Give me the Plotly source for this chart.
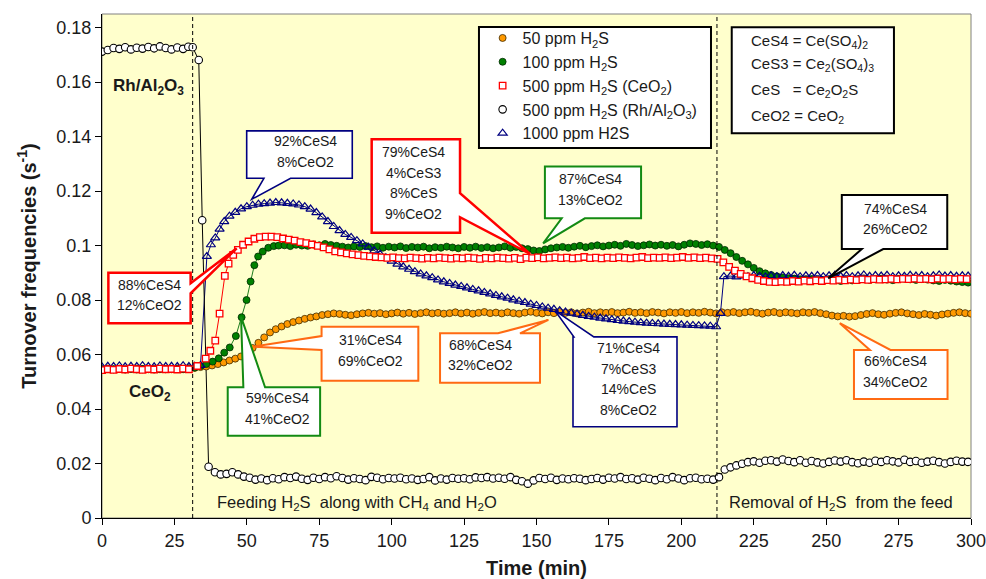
import plotly.graph_objects as go

FONT = "Arial, 'Liberation Sans', Helvetica, sans-serif"
TXT = "#1a1a1a"


def grid(start, step, n):
    """Sampling instants of a run logged at a fixed interval (min)."""
    return [round(start + step * i, 2) for i in range(n)]


# ---------------------------------------------------------------------------
# Turnover frequency (s^-1) versus time on stream (min)
# H2S switched on at ~31 min, switched off at ~212 min
# ---------------------------------------------------------------------------
h2s_on, h2s_off = 31.3, 212.3

# 50 ppm H2S over CeO2, logged every 2 min from t = 0
orange_v = [
    0.0545, 0.0547, 0.0546, 0.0548, 0.0546, 0.0547, 0.0545, 0.0547, 0.0546, 0.0548,
    0.0546, 0.0547, 0.0546, 0.0548, 0.0547, 0.0549, 0.0551, 0.0554, 0.0556, 0.0560,
    0.0565, 0.0571, 0.0578, 0.0585, 0.0593, 0.0605, 0.0624, 0.0643, 0.0663, 0.0681,
    0.0693, 0.0703, 0.0712, 0.0719, 0.0725, 0.0731, 0.0736, 0.0740, 0.0745, 0.0748,
    0.0751, 0.0749, 0.0746, 0.0744, 0.0748, 0.0751, 0.0753, 0.0750, 0.0752, 0.0748,
    0.0751, 0.0754, 0.0750, 0.0753, 0.0749, 0.0752, 0.0755, 0.0751, 0.0753, 0.0750,
    0.0752, 0.0755, 0.0751, 0.0754, 0.0750, 0.0753, 0.0756, 0.0752, 0.0754, 0.0751,
    0.0755, 0.0752, 0.0750, 0.0754, 0.0757, 0.0753, 0.0751, 0.0755, 0.0752, 0.0756,
    0.0753, 0.0755, 0.0751, 0.0754, 0.0757, 0.0752, 0.0755, 0.0753, 0.0756, 0.0752,
    0.0754, 0.0757, 0.0753, 0.0755, 0.0752, 0.0756, 0.0754, 0.0751, 0.0755, 0.0753,
    0.0756, 0.0752, 0.0755, 0.0753, 0.0757, 0.0754, 0.0751, 0.0755, 0.0753, 0.0756,
    0.0752, 0.0755, 0.0757, 0.0753, 0.0750, 0.0754, 0.0756, 0.0752, 0.0755, 0.0753,
    0.0751, 0.0755, 0.0753, 0.0756, 0.0752, 0.0748, 0.0743, 0.0740, 0.0742, 0.0739,
    0.0741, 0.0745, 0.0749, 0.0752, 0.0748, 0.0746, 0.0750, 0.0753, 0.0755, 0.0751,
    0.0748, 0.0745, 0.0749, 0.0746, 0.0743, 0.0747, 0.0750, 0.0753, 0.0755, 0.0752,
    0.0750,
]
orange_t = grid(0, 2, len(orange_v))

# 100 ppm H2S over CeO2
green_pre_v = [
    0.0546, 0.0548, 0.0546, 0.0547, 0.0545, 0.0547, 0.0548, 0.0546, 0.0547, 0.0545,
    0.0547, 0.0546, 0.0547, 0.0548, 0.0546, 0.0549, 0.0552, 0.0558, 0.0565,
]
green_rise_t = [38.2, 40.3, 42.2, 44.1, 46.2, 48.2, 49.9, 51.3, 52.6, 53.9, 55.5, 57.4, 59.3]
green_rise_v = [0.0574, 0.0586, 0.0607, 0.0626, 0.0668, 0.0737, 0.0800, 0.0868,
                0.0928, 0.0960, 0.0978, 0.0992, 0.0998]
green_post_v = [
    0.1000, 0.1001, 0.0998, 0.1003, 0.1000, 0.0999, 0.1004, 0.1001, 0.1006, 0.1002,
    0.0999, 0.0996, 0.0993, 0.0997, 0.0995, 0.0998, 0.0994, 0.0997, 0.0992, 0.0996,
    0.0993, 0.0997, 0.0991, 0.0995, 0.0993, 0.0996, 0.0990, 0.0994, 0.0992, 0.0996,
    0.0993, 0.0990, 0.0995, 0.0992, 0.0996, 0.0991, 0.0994, 0.0990, 0.0993, 0.0997,
    0.0992, 0.0995, 0.0990, 0.0987, 0.0982, 0.0980, 0.0986, 0.0990, 0.0993, 0.0995,
    0.0992, 0.0996, 0.0999, 0.0994, 0.0998, 0.1001, 0.0997, 0.1000, 0.1003, 0.0999,
    0.1006, 0.1002, 0.0998, 0.1001, 0.1004, 0.1000, 0.1003, 0.0999, 0.1002, 0.0997,
    0.1003, 0.1008, 0.1006, 0.1002, 0.1005, 0.1000, 0.0995, 0.0984, 0.0972, 0.0958,
    0.0944, 0.0931, 0.0918, 0.0906, 0.0898, 0.0892, 0.0887, 0.0883, 0.0880, 0.0878,
    0.0876, 0.0875, 0.0877, 0.0874, 0.0872, 0.0875, 0.0873, 0.0870, 0.0874, 0.0872,
    0.0875, 0.0877, 0.0874, 0.0876, 0.0878, 0.0875, 0.0873, 0.0877, 0.0879, 0.0876,
    0.0874, 0.0877, 0.0875, 0.0872, 0.0870, 0.0874, 0.0871, 0.0868, 0.0866, 0.0864,
]
green_t = grid(0, 2, len(green_pre_v)) + green_rise_t + grid(61, 2, len(green_post_v))
green_v = green_pre_v + green_rise_v + green_post_v

# 500 ppm H2S over CeO2
red_pre_v = [
    0.0543, 0.0546, 0.0544, 0.0547, 0.0545, 0.0548, 0.0546, 0.0544, 0.0547, 0.0545,
    0.0548, 0.0546, 0.0547, 0.0545, 0.0548, 0.0546,
]
red_rise_t = [32.9, 35.8, 37.4, 39.1, 40.6, 42.4, 43.7, 45.3, 46.9, 48.7, 50.6, 52.6]
red_rise_v = [0.0558, 0.0585, 0.0614, 0.0651, 0.0750, 0.0889, 0.0934, 0.0966,
              0.0984, 0.1003, 0.1015, 0.1025]
red_post_v = [
    0.1031, 0.1033, 0.1033, 0.1031, 0.1026, 0.1022, 0.1018, 0.1013, 0.1009, 0.1004,
    0.0999, 0.0993, 0.0986, 0.0979, 0.0975, 0.0971, 0.0968, 0.0965, 0.0962, 0.0960,
    0.0958, 0.0957, 0.0955, 0.0957, 0.0954, 0.0953, 0.0956, 0.0954, 0.0952, 0.0955,
    0.0953, 0.0956, 0.0954, 0.0952, 0.0955, 0.0953, 0.0956, 0.0954, 0.0951, 0.0955,
    0.0953, 0.0956, 0.0954, 0.0952, 0.0955, 0.0950, 0.0956, 0.0954, 0.0957, 0.0953,
    0.0955, 0.0957, 0.0954, 0.0956, 0.0953, 0.0955, 0.0958, 0.0954, 0.0956, 0.0953,
    0.0956, 0.0954, 0.0957, 0.0955, 0.0953, 0.0956, 0.0958, 0.0954, 0.0956, 0.0955,
    0.0957, 0.0954, 0.0956, 0.0958, 0.0955, 0.0957, 0.0954, 0.0956, 0.0953, 0.0951,
    0.0938, 0.0922, 0.0908, 0.0896, 0.0887, 0.0880, 0.0874, 0.0870, 0.0867, 0.0866,
    0.0868, 0.0867, 0.0870, 0.0868, 0.0871, 0.0869, 0.0872, 0.0870, 0.0873, 0.0871,
    0.0874, 0.0872, 0.0875, 0.0873, 0.0876, 0.0874, 0.0877, 0.0875, 0.0876, 0.0878,
    0.0876, 0.0878, 0.0877, 0.0879, 0.0877, 0.0878, 0.0876, 0.0879, 0.0877, 0.0878,
    0.0876, 0.0878, 0.0877,
]
red_t = grid(0, 2, len(red_pre_v)) + red_rise_t + grid(54.5, 2, len(red_post_v))
red_v = red_pre_v + red_rise_v + red_post_v

# 500 ppm H2S over Rh/Al2O3
black_pre_v = [
    0.1712, 0.1718, 0.1725, 0.1722, 0.1728, 0.1720, 0.1726, 0.1723, 0.1729, 0.1724,
    0.1731, 0.1725, 0.1720, 0.1727, 0.1722,
]
black_drop_t = [29.8, 31.3, 33.4, 34.6, 36.8]
black_drop_v = [0.1730, 0.1728, 0.1681, 0.1093, 0.0188]
black_feed_v = [
    0.0168, 0.0160, 0.0162, 0.0168, 0.0160, 0.0152, 0.0148, 0.0141, 0.0145, 0.0139,
    0.0146, 0.0142, 0.0150, 0.0147, 0.0152, 0.0144, 0.0140, 0.0148, 0.0143, 0.0150,
    0.0146, 0.0153, 0.0147, 0.0141, 0.0146, 0.0143, 0.0139, 0.0151, 0.0148, 0.0142,
    0.0147, 0.0145, 0.0148, 0.0142, 0.0145, 0.0140, 0.0143, 0.0150, 0.0138, 0.0145,
    0.0141, 0.0147, 0.0144, 0.0146, 0.0142, 0.0149, 0.0147, 0.0150, 0.0145, 0.0148,
    0.0144, 0.0150, 0.0140, 0.0135, 0.0126, 0.0138, 0.0147, 0.0143, 0.0148, 0.0140,
    0.0145, 0.0142, 0.0146, 0.0144, 0.0139, 0.0143, 0.0147, 0.0141, 0.0148, 0.0145,
    0.0150, 0.0143, 0.0146, 0.0141, 0.0148, 0.0144, 0.0139, 0.0147, 0.0142, 0.0150,
    0.0145, 0.0139, 0.0146, 0.0148, 0.0142, 0.0144, 0.0141,
]
black_off_v = [
    0.0150, 0.0178, 0.0186, 0.0193, 0.0199, 0.0205, 0.0208, 0.0203, 0.0210, 0.0212,
    0.0207, 0.0215, 0.0209, 0.0205, 0.0212, 0.0203, 0.0209, 0.0204, 0.0200, 0.0206,
    0.0211, 0.0207, 0.0212, 0.0205, 0.0201, 0.0207, 0.0203, 0.0210, 0.0206, 0.0212,
    0.0208, 0.0204, 0.0214, 0.0206, 0.0209, 0.0203, 0.0207, 0.0210, 0.0205, 0.0200,
    0.0206, 0.0210, 0.0207, 0.0206,
]
black_t = (grid(0, 2, len(black_pre_v)) + black_drop_t
           + grid(39, 2, len(black_feed_v)) + grid(213, 2, len(black_off_v)))
black_v = black_pre_v + black_drop_v + black_feed_v + black_off_v

# 1000 ppm H2S over CeO2
blue_pre_v = [
    0.0554, 0.0557, 0.0556, 0.0558, 0.0555, 0.0557, 0.0556, 0.0559, 0.0556, 0.0555,
    0.0558, 0.0556, 0.0557, 0.0556, 0.0559, 0.0556, 0.0557, 0.0560,
]
blue_rise_t = [36.2, 37.6, 39.1, 40.6, 42.2, 44.0, 46.0]
blue_rise_v = [0.0960, 0.1003, 0.1028, 0.1060, 0.1088, 0.1108, 0.1122]
blue_feed_v = [
    0.1135, 0.1143, 0.1148, 0.1152, 0.1154, 0.1156, 0.1158, 0.1157, 0.1155, 0.1153,
    0.1149, 0.1143, 0.1134, 0.1121, 0.1105, 0.1088, 0.1070, 0.1055, 0.1041, 0.1030,
    0.1018, 0.1006, 0.0994, 0.0981, 0.0968, 0.0955, 0.0943, 0.0932, 0.0922, 0.0913,
    0.0904, 0.0896, 0.0889, 0.0882, 0.0874, 0.0867, 0.0861, 0.0855, 0.0850, 0.0845,
    0.0839, 0.0834, 0.0828, 0.0823, 0.0817, 0.0812, 0.0807, 0.0801, 0.0796, 0.0791,
    0.0785, 0.0780, 0.0775, 0.0770, 0.0766, 0.0761, 0.0756, 0.0752, 0.0748, 0.0744,
    0.0740, 0.0737, 0.0734, 0.0731, 0.0728, 0.0725, 0.0723, 0.0721, 0.0719, 0.0717,
    0.0715, 0.0714, 0.0713, 0.0712, 0.0711, 0.0710, 0.0709, 0.0708, 0.0707, 0.0706,
    0.0705, 0.0704, 0.0702,
]
blue_jump_t = [213.5, 214.7]
blue_jump_v = [0.0751, 0.0886]
blue_off_v = [
    0.0888, 0.0885, 0.0889, 0.0886, 0.0890, 0.0887, 0.0885, 0.0889, 0.0886, 0.0890,
    0.0887, 0.0891, 0.0886, 0.0889, 0.0887, 0.0890, 0.0886, 0.0889, 0.0891, 0.0887,
    0.0890, 0.0886, 0.0889, 0.0892, 0.0887, 0.0890, 0.0888, 0.0891, 0.0886, 0.0889,
    0.0887, 0.0891, 0.0888, 0.0890, 0.0886, 0.0889, 0.0892, 0.0888, 0.0890, 0.0887,
    0.0889, 0.0888,
]
blue_t = (grid(0, 2, len(blue_pre_v)) + blue_rise_t + grid(48, 2, len(blue_feed_v))
          + blue_jump_t + grid(217, 2, len(blue_off_v)))
blue_v = blue_pre_v + blue_rise_v + blue_feed_v + blue_jump_v + blue_off_v

y_ticks = [0, 0.02, 0.04, 0.06, 0.08, 0.1, 0.12, 0.14, 0.16, 0.18]
y_ticktext = ["0", "0.02", "0.04", "0.06", "0.08", "0.1", "0.12", "0.14", "0.16", "0.18"]
x_ticks = list(range(0, 301, 25))

# ---------------------------------------------------------------------------
fig = go.Figure()

# connecting lines (drawn first so markers sit on top)
for t, v, col in [(green_t, green_v, "#1E7D1E"), (blue_t, blue_v, "#000080"),
                  (red_t, red_v, "#FF0000"), (black_t, black_v, "#000000")]:
    fig.add_trace(go.Scatter(x=t, y=v, mode="lines", line=dict(color=col, width=1),
                             showlegend=False, hoverinfo="skip"))

series = [
    ("50 ppm H<sub>2</sub>S", orange_t, orange_v, 1,
     dict(symbol="circle", size=7, color="#FF9900", line=dict(color="#3d2a00", width=0.8))),
    ("100 ppm H<sub>2</sub>S", green_t, green_v, 2,
     dict(symbol="circle", size=7, color="#008000", line=dict(color="#002800", width=0.8))),
    ("1000 ppm H2S", blue_t, blue_v, 5,
     dict(symbol="triangle-up-open", size=8, color="#000080", line=dict(color="#000080", width=1.2))),
    ("500 ppm H<sub>2</sub>S (CeO<sub>2</sub>)", red_t, red_v, 3,
     dict(symbol="square", size=6.5, color="white", line=dict(color="#FF0000", width=1.3))),
    ("500 ppm H<sub>2</sub>S (Rh/Al<sub>2</sub>O<sub>3</sub>)", black_t, black_v, 4,
     dict(symbol="circle", size=7.5, color="white", line=dict(color="#000000", width=1.1))),
]
for name, t, v, rank, mk in series:
    fig.add_trace(go.Scatter(x=t, y=v, mode="markers", name=name, marker=mk,
                             legendrank=rank))

shapes = []
annotations = []

# switch-on / switch-off markers
for tx in (h2s_on, h2s_off):
    shapes.append(dict(type="line", xref="x", yref="paper", x0=tx, x1=tx, y0=0, y1=1,
                       line=dict(color="black", width=1, dash="4px,3px"), layer="above"))

# plot-area frame
shapes.append(dict(type="rect", xref="paper", yref="paper", x0=0, x1=1, y0=0, y1=1,
                   line=dict(color="#808080", width=1), fillcolor="rgba(0,0,0,0)",
                   layer="below"))

# legend frame (the legend itself is drawn transparent on top of it)
shapes.append(dict(type="rect", xref="paper", yref="paper", x0=0.4338, x1=0.7008,
                   y0=0.7341, y1=0.9742, line=dict(color="black", width=2),
                   fillcolor="white", layer="above"))


def callout(lines, box, side, base, tip, color, width=2, text_x=None):
    """Speech-bubble box (data coords) with a wedge pointing at `tip`."""
    x0, x1, ytop, ybot = box
    b1, b2 = base
    tx, ty = tip
    if side == "bottom":
        pts = [(x0, ytop), (x1, ytop), (x1, ybot), (b2, ybot), (tx, ty), (b1, ybot), (x0, ybot)]
    elif side == "top":
        pts = [(x0, ytop), (b1, ytop), (tx, ty), (b2, ytop), (x1, ytop), (x1, ybot), (x0, ybot)]
    elif side == "right":
        pts = [(x0, ytop), (x1, ytop), (x1, b1), (tx, ty), (x1, b2), (x1, ybot), (x0, ybot)]
    else:  # left
        pts = [(x0, ytop), (x1, ytop), (x1, ybot), (x0, ybot), (x0, b2), (tx, ty), (x0, b1)]
    path = "M " + " L ".join(f"{px},{py}" for px, py in pts) + " Z"
    shapes.append(dict(type="path", xref="x", yref="y", path=path, fillcolor="white",
                       line=dict(color=color, width=width), layer="above"))
    cx = text_x if text_x is not None else (x0 + x1) / 2
    cy = (ytop + ybot) / 2
    n = len(lines)
    for k, s in enumerate(lines):
        annotations.append(dict(x=cx, y=cy, xref="x", yref="y", text=s, showarrow=False,
                                yshift=3 + ((n - 1) / 2 - k) * 20.5,
                                font=dict(size=14, color=TXT, family=FONT)))


callout(["92%CeS4", "8%CeO2"], (49.95, 86.4, 0.1421, 0.1247), "bottom", (55.9, 65.1),
        (51.7, 0.1170), "#000080", 1.6, 70.1)
callout(["88%CeS4", "12%CeO2"], (2.2, 30.6, 0.0900, 0.0715), "right", (0.0862, 0.0825),
        (46.5, 0.0990), "#FF0000", 2.5, 16.3)
callout(["79%CeS4", "4%CeS3", "8%CeS", "9%CeO2"], (93.1, 123.6, 0.1390, 0.1047), "right",
        (0.1192, 0.1104), (147.8, 0.0969), "#FF0000", 2.5, 107.6)
callout(["87%CeS4", "13%CeO2"], (152.9, 186.1, 0.1290, 0.1100), "bottom", (158.7, 166.7),
        (152.3, 0.1008), "#138A13", 2, 168.7)
callout(["74%CeS4", "26%CeO2"], (255.4, 291.8, 0.1186, 0.0987), "bottom", (262.3, 269.7),
        (250.7, 0.0880), "#000000", 2, 274.1)
callout(["31%CeS4", "69%CeO2"], (75.8, 109.2, 0.0702, 0.0504), "left", (0.0668, 0.0617),
        (52.2, 0.0629), "#FF6A13", 2, 92.7)
callout(["68%CeS4", "32%CeO2"], (116.7, 151.2, 0.0678, 0.0496), "top", (136.7, 144.3),
        (154.1, 0.0727), "#FF6A13", 2, 130.8)
callout(["59%CeS4", "41%CeO2"], (43.4, 75.3, 0.0480, 0.0302), "top", (48.8, 56.3),
        (48.0, 0.0739), "#138A13", 2, 60.6)
callout(["71%CeS4", "7%CeS3", "14%CeS", "8%CeO2"], (162.6, 198.5, 0.0665, 0.0335), "top",
        (162.9, 169.8), (156.4, 0.0761), "#000080", 1.6, 181.6)
callout(["66%CeS4", "34%CeO2"], (259.6, 291.9, 0.0617, 0.0437), "top", (265.1, 272.2),
        (254.7, 0.0715), "#FF6A13", 2, 273.8)

# phase notation box
shapes.append(dict(type="rect", xref="x", yref="y", x0=217.4, x1=273.4, y0=0.1412, y1=0.1801,
                   line=dict(color="black", width=2), fillcolor="white", layer="above"))
nb = "\u00a0"
for s, yy in [("CeS4 = Ce(SO<sub>4</sub>)<sub>2</sub>", 0.1748),
              ("CeS3 = Ce<sub>2</sub>(SO<sub>4</sub>)<sub>3</sub>", 0.1663),
              (f"CeS{nb}{nb}{nb}= Ce<sub>2</sub>O<sub>2</sub>S", 0.1571),
              ("CeO2 = CeO<sub>2</sub>", 0.1473)]:
    annotations.append(dict(x=223.5, y=yy, xref="x", yref="y", text=s, showarrow=False,
                            xanchor="left", font=dict(size=15, color=TXT, family=FONT)))

# catalyst labels and phase captions
annotations += [
    dict(x=16.2, y=0.1582, xref="x", yref="y", showarrow=False,
         text="<b>Rh/Al<sub>2</sub>O<sub>3</sub></b>", font=dict(size=17, color=TXT, family=FONT)),
    dict(x=16.4, y=0.0459, xref="x", yref="y", showarrow=False,
         text="<b>CeO<sub>2</sub></b>", font=dict(size=17, color=TXT, family=FONT)),
    dict(x=39.0, y=0.0054, xref="x", yref="y", showarrow=False, xanchor="left",
         text="Feeding H<sub>2</sub>S  along with CH<sub>4</sub> and H<sub>2</sub>O",
         font=dict(size=16.5, color=TXT, family=FONT)),
    dict(x=215.7, y=0.0054, xref="x", yref="y", showarrow=False, xanchor="left",
         text="Removal of H<sub>2</sub>S  from the feed",
         font=dict(size=16.5, color=TXT, family=FONT)),
]

fig.update_layout(
    width=986, height=579,
    margin=dict(l=102, r=15, t=14, b=61),
    paper_bgcolor="white", plot_bgcolor="#FFFFCC",
    font=dict(family=FONT, size=14, color=TXT),
    showlegend=True,
    legend=dict(x=0.4380, y=0.9860, xanchor="left", yanchor="top",
                bgcolor="rgba(0,0,0,0)", borderwidth=0, traceorder="normal",
                font=dict(size=16, family=FONT, color=TXT)),
    xaxis=dict(range=[0, 300], tickvals=x_ticks, ticks="outside", ticklen=6,
               tickcolor="black", showline=True, linecolor="black", linewidth=1,
               showgrid=False, zeroline=False, tickfont=dict(size=18, color=TXT),
               ticklabeloverflow="allow", automargin=False,
               title=dict(text="<b>Time (min)</b>", font=dict(size=20, color=TXT),
                          standoff=17)),
    yaxis=dict(range=[0, 0.185], tickvals=y_ticks, ticktext=y_ticktext, ticks="outside",
               ticklen=6, tickcolor="black", showline=True, linecolor="black", linewidth=1,
               showgrid=False, zeroline=False, tickfont=dict(size=18, color=TXT),
               automargin=False,
               title=dict(text="<b>Turnover frequencies (s<sup>-1</sup>)</b>",
                          font=dict(size=20, color=TXT), standoff=14)),
    shapes=shapes,
    annotations=annotations,
)

fig.write_html("out.html")
